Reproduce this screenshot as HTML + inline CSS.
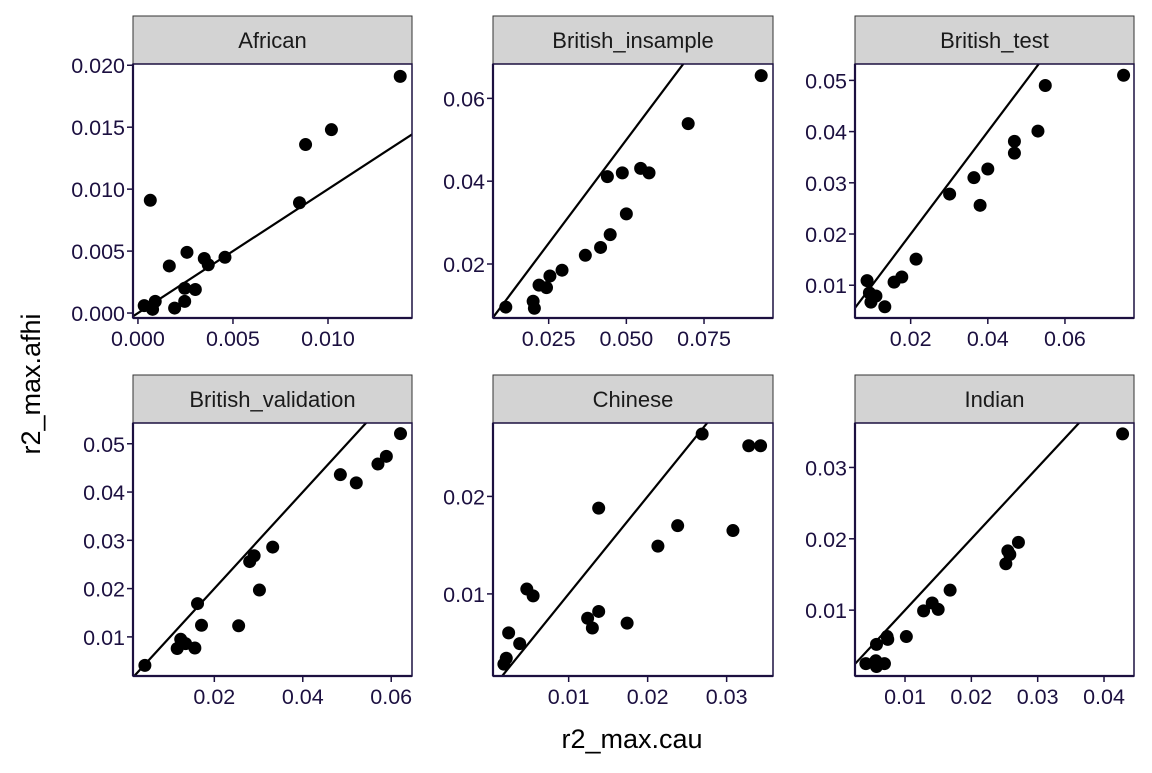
<!DOCTYPE html>
<html><head><meta charset="utf-8"><style>
body{margin:0;background:#fff;}
svg text{font-family:"Liberation Sans",sans-serif;}
</style></head><body>
<svg id="c" width="1152" height="768" xmlns="http://www.w3.org/2000/svg">
<text x="632" y="748" font-size="27" text-anchor="middle" fill="#000">r2_max.cau</text>
<text transform="translate(40,384) rotate(-90)" font-size="27" text-anchor="middle" fill="#000">r2_max.afhi</text>
</svg>
<script>
const panelNames=["African","British_insample","British_test","British_validation","Chinese","Indian"];
const xDomains=[[-0.00026,0.01442],[0.00708,0.0972],[0.00557,0.0779],[0.00161,0.0647],[0.00042,0.03587],[0.00246,0.04452]];
const yDomains=[[-0.0004,0.0201],[0.00696,0.0683],[0.0036,0.0532],[0.0019,0.0543],[0.00158,0.02753],[0.00077,0.03623]];
const xTicks=[[0,0.005,0.01],[0.025,0.05,0.075],[0.02,0.04,0.06],[0.02,0.04,0.06],[0.01,0.02,0.03],[0.01,0.02,0.03,0.04]];
const xTickLabels=[["0.000","0.005","0.010"],["0.025","0.050","0.075"],["0.02","0.04","0.06"],["0.02","0.04","0.06"],["0.01","0.02","0.03"],["0.01","0.02","0.03","0.04"]];
const yTicks=[[0,0.005,0.01,0.015,0.02],[0.02,0.04,0.06],[0.01,0.02,0.03,0.04,0.05],[0.01,0.02,0.03,0.04,0.05],[0.01,0.02],[0.01,0.02,0.03]];
const yTickLabels=[["0.000","0.005","0.010","0.015","0.020"],["0.02","0.04","0.06"],["0.01","0.02","0.03","0.04","0.05"],["0.01","0.02","0.03","0.04","0.05"],["0.01","0.02"],["0.01","0.02","0.03"]];
const xAfrican=[0.00033,0.00077,0.00091,0.00065,0.00165,0.00193,0.00246,0.00246,0.00258,0.00302,0.00349,0.0037,0.00458,0.0085,0.00882,0.01018,0.0138];
const yAfrican=[0.0006,0.0003,0.00094,0.0091,0.0038,0.0004,0.00094,0.002,0.0049,0.0019,0.0044,0.0039,0.0045,0.0089,0.0136,0.0148,0.0191];
const xInsample=[0.0112,0.02,0.0204,0.0219,0.0243,0.0254,0.0293,0.0368,0.0417,0.0448,0.0439,0.0487,0.05,0.0546,0.0573,0.0699,0.0934];
const yInsample=[0.0096,0.011,0.0093,0.0149,0.0143,0.0171,0.0185,0.0221,0.024,0.0271,0.0411,0.042,0.0321,0.0431,0.042,0.0539,0.0655];
const xTest=[0.0087,0.0093,0.0097,0.011,0.0133,0.0157,0.0177,0.0214,0.0301,0.0364,0.04,0.038,0.0469,0.0469,0.053,0.0549,0.0752];
const yTest=[0.0109,0.0085,0.0067,0.0079,0.0058,0.0106,0.0116,0.0151,0.0278,0.031,0.0327,0.0256,0.0381,0.0358,0.0401,0.049,0.051];
const xValidation=[0.0043,0.0116,0.0124,0.0135,0.0156,0.0162,0.0171,0.0255,0.028,0.029,0.0302,0.0332,0.0485,0.0521,0.057,0.0589,0.0621];
const yValidation=[0.0041,0.0076,0.0095,0.0086,0.0077,0.0169,0.0124,0.0123,0.0256,0.0268,0.0197,0.0286,0.0436,0.0419,0.0458,0.0474,0.0521];
const xChinese=[0.0018,0.0021,0.0024,0.0038,0.0047,0.0055,0.0124,0.013,0.0138,0.0138,0.0174,0.0213,0.0238,0.0308,0.0269,0.0328,0.0343];
const yChinese=[0.0028,0.0034,0.006,0.0049,0.0105,0.0098,0.0075,0.0065,0.0082,0.0188,0.007,0.0149,0.017,0.0165,0.0264,0.0252,0.0252];
const xIndian=[0.0041,0.0056,0.0057,0.0069,0.0057,0.0073,0.0074,0.0102,0.0128,0.0141,0.015,0.0168,0.0252,0.0255,0.0258,0.0271,0.0428];
const yIndian=[0.0025,0.0029,0.0021,0.0025,0.0052,0.0063,0.0059,0.0063,0.0099,0.011,0.0101,0.0128,0.0165,0.0183,0.0178,0.0195,0.0347];
const xs=[xAfrican,xInsample,xTest,xValidation,xChinese,xIndian];
const ys=[yAfrican,yInsample,yTest,yValidation,yChinese,yIndian];

const NS="http://www.w3.org/2000/svg";
const svg=document.getElementById('c');
const colsL=[133,493,855],colsR=[412,773,1134];
const rowsT=[64,423],rowsB=[318,676];
const ink="#1c1040";
function mk(tag,attrs,parent){const e=document.createElementNS(NS,tag);for(const k in attrs)e.setAttribute(k,attrs[k]);(parent||svg).appendChild(e);return e;}
for(let p=0;p<6;p++){
  const L=colsL[p%3],R=colsR[p%3],T=rowsT[Math.floor(p/3)],B=rowsB[Math.floor(p/3)];
  const xd=xDomains[p],yd=yDomains[p];
  const sx=v=>L+(v-xd[0])/(xd[1]-xd[0])*(R-L);
  const sy=v=>B-(v-yd[0])/(yd[1]-yd[0])*(B-T);
  const g=mk('g',{});
  
  
  const strip=mk('rect',{x:L,y:T-48,width:R-L,height:48,fill:'#d3d3d3',stroke:'#333','stroke-width':1},g);
  
  
  const st=mk('text',{x:(L+R)/2,y:T-16,'font-size':22,'text-anchor':'middle',fill:'#1a1a1a'},g);
  st.textContent=panelNames[p];
  
  
  const clipId='clip'+p;
  const cp=mk('clipPath',{id:clipId},g);mk('rect',{x:L,y:T,width:R-L,height:B-T},cp);
  const a=Math.min(xd[0],yd[0]),b=Math.max(xd[1],yd[1]);
  const ln=mk('line',{x1:sx(a),y1:sy(a),x2:sx(b),y2:sy(b),stroke:'#000','stroke-width':2.2,'clip-path':'url(#'+clipId+')'},g);
  
  
  for(let i=0;i<xs[p].length;i++){
    const c=mk('circle',{cx:sx(xs[p][i]),cy:sy(ys[p][i]),r:6.5,fill:'#000'},g);
    
    
  }
  const fr=mk('rect',{x:L,y:T,width:R-L,height:B-T,fill:'none',stroke:ink,'stroke-width':1.5},g);
  
  
  mk('line',{x1:L,y1:T,x2:L,y2:B,stroke:ink,'stroke-width':2.2},g);
  mk('line',{x1:L,y1:B,x2:R,y2:B,stroke:ink,'stroke-width':2.2},g);
  xTicks[p].forEach((v,i)=>{
    const x=sx(v);
    mk('line',{x1:x,y1:B,x2:x,y2:B+6,stroke:ink,'stroke-width':1.5},g);
    const t=mk('text',{x:x,y:B+28,'font-size':21.5,'text-anchor':'middle',fill:ink},g);
    t.textContent=xTickLabels[p][i];
    
    
  });
  yTicks[p].forEach((v,i)=>{
    const y=sy(v);
    mk('line',{x1:L-6,y1:y,x2:L,y2:y,stroke:ink,'stroke-width':1.5},g);
    const t=mk('text',{x:L-8,y:y+8,'font-size':21.5,'text-anchor':'end',fill:ink},g);
    t.textContent=yTickLabels[p][i];
    
    
  });
}
</script>
</body></html>
